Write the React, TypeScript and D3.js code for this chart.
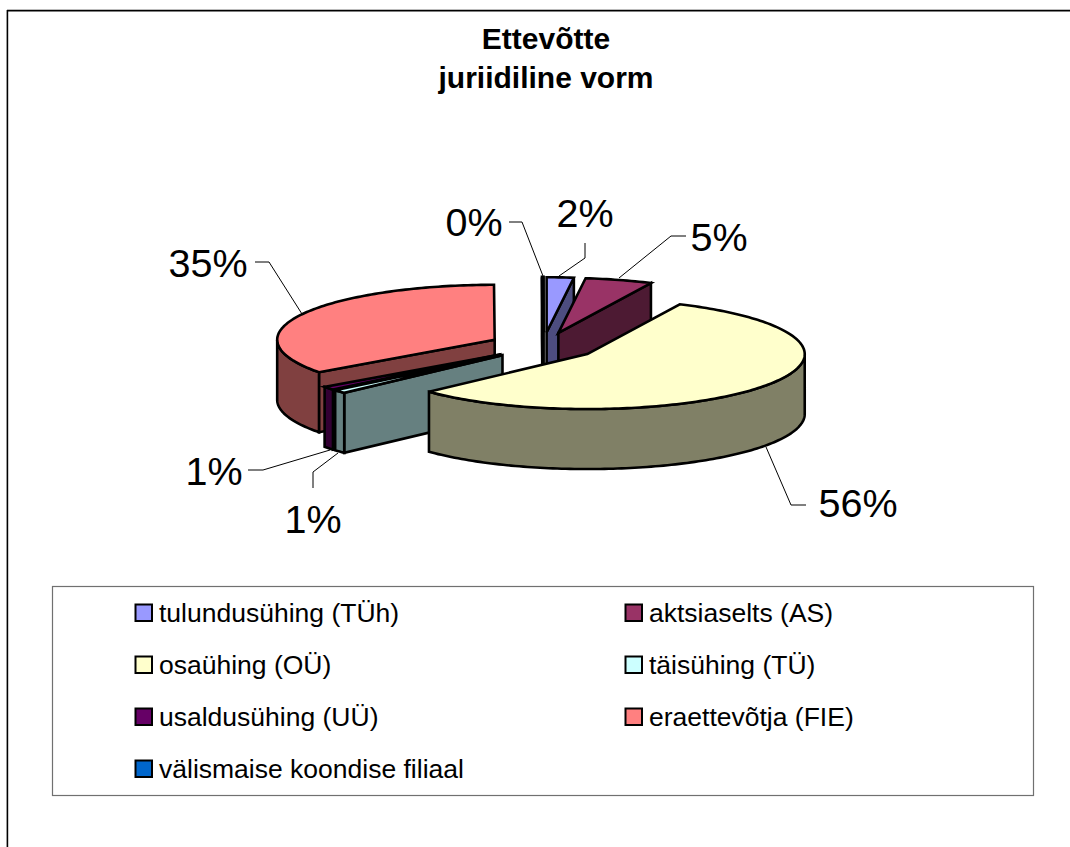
import React from "react";
import * as d3 from "d3";

const categories = [
  "tulundusühing (TÜh)",
  "aktsiaselts (AS)",
  "osaühing (OÜ)",
  "täisühing (TÜ)",
  "usaldusühing (UÜ)",
  "eraettevõtja (FIE)",
  "välismaise koondise filiaal",
];
const shares = [2, 5, 56, 1, 1, 35, 0.05];
const topColors = ["#9999ff", "#993366", "#ffffcc", "#ccffff", "#660066", "#ff8080", "#0066cc"];
const sideColors = ["#4d4d80", "#4d1a33", "#808066", "#668080", "#330033", "#804040", "#003366"];
const paintOrder = [6, 0, 1, 5, 4, 3, 2];
const labelTexts = ["2%", "5%", "56%", "1%", "1%", "35%", "0%"];
const titleLines = ["Ettevõtte", "juriidiline vorm"];

const W = 1070, H = 847;
const CX = 543.2, CY = 346, RX = 217.5, RY = 55, DEPTH = 60, EXPLODE = 0.25;
const FONT = "'Liberation Sans', Arial, sans-serif";

// label anchor (x, baseline y) and leader polyline per slice, in chart px
const labelPos = [
  { x: 585, y: 227, leader: [[585, 243], [585, 258], [559, 276]] },
  { x: 719, y: 251, leader: [[686, 236], [671, 236], [619, 278]] },
  { x: 858, y: 517, leader: [[806, 505], [791, 505], [766, 447]] },
  { x: 313, y: 533, leader: [[313, 488], [313, 472], [338, 453]] },
  { x: 214, y: 485, leader: [[248, 470], [263, 470], [330, 450]] },
  { x: 208, y: 277, leader: [[255, 262], [269, 262], [302, 314]] },
  { x: 474, y: 236, leader: [[509, 222], [522, 222], [543, 276]] },
];

const pieGen = d3.pie<number>().sort(null).value((d) => d);
const arcs = pieGen(shares);

function pt(a: number, ox: number, oy: number, dz = 0): [number, number] {
  return [ox + RX * Math.sin(a), oy - RY * Math.cos(a) + dz];
}
function arcPts(a0: number, a1: number, ox: number, oy: number, dz = 0) {
  const n = Math.max(2, Math.ceil(Math.abs(a1 - a0) / 0.02));
  return d3.range(n + 1).map((i) => pt(a0 + ((a1 - a0) * i) / n, ox, oy, dz));
}
const line = d3.line();

function slicePaths(i: number) {
  const a0 = arcs[i].startAngle, a1 = arcs[i].endAngle, m = (a0 + a1) / 2;
  const ox = CX + EXPLODE * RX * Math.sin(m);
  const oy = CY - EXPLODE * RY * Math.cos(m);
  const sides: string[] = [];
  const TAU = Math.PI * 2;
  if (Math.sin(a1) > 0) {
    const e = pt(a1, ox, oy);
    sides.push(line([e, [ox, oy], [ox, oy + DEPTH], [e[0], e[1] + DEPTH]])! + "Z");
  }
  if (Math.sin(a0) < 0) {
    const e = pt(a0, ox, oy);
    sides.push(line([e, [ox, oy], [ox, oy + DEPTH], [e[0], e[1] + DEPTH]])! + "Z");
  }
  const s0 = Math.max(a0, Math.PI / 2), s1 = Math.min(a1, (TAU * 3) / 4);
  if (s1 > s0) {
    const top = arcPts(s0, s1, ox, oy);
    const bottom = arcPts(s1, s0, ox, oy, DEPTH);
    sides.push(line([...top, ...bottom])! + "Z");
  }
  const face = line([[ox, oy], ...arcPts(a0, a1, ox, oy)])! + "Z";
  return { sides, face, thin: a1 - a0 < 0.01 };
}

const legendCols = [135, 625];
const legendRows = [613, 665, 717, 769];

export default function App() {
  return (
    <svg width={W} height={H} style={{ position: "absolute", left: 0, top: 0, background: "#fff" }} fontFamily={FONT}>
      <path d={`M7 9.5H${W}`} fill="none" stroke="#bbbbbb" strokeWidth={1} />
      <path d={`M7.4 ${H}V10.7H${W}`} fill="none" stroke="#000" strokeWidth={1.6} />
      {titleLines.map((t, i) => (
        <text key={t} x={546} y={49 + i * 39} textAnchor="middle" fontSize={30} fontWeight="bold" fill="#000">{t}</text>
      ))}
      {paintOrder.map((i) => {
        const { sides, face, thin } = slicePaths(i);
        return (
          <g key={i} stroke="#000" strokeWidth={thin ? 3.6 : 2.6} strokeLinejoin="miter">
            {sides.map((d, k) => <path key={k} d={d} fill={sideColors[i]} />)}
            <path d={face} fill={topColors[i]} />
          </g>
        );
      })}
      {labelPos.map((l, i) => (
        <g key={i}>
          <path d={line(l.leader as [number, number][])!} fill="none" stroke="#000" strokeWidth={1} />
          <text x={l.x} y={l.y - 0.5} textAnchor="middle" fontSize={39.5} fill="#000">{labelTexts[i]}</text>
        </g>
      ))}
      <rect x={52.5} y={586.5} width={981} height={209} fill="#fff" stroke="#707070" strokeWidth={1.2} />
      {categories.map((c, i) => {
        const x = legendCols[i % 2], y = legendRows[Math.floor(i / 2)];
        return (
          <g key={c}>
            <rect x={x + 0.5} y={y - 8.5} width={16.5} height={16.5} fill={topColors[i]} stroke="#000" strokeWidth={2} />
            <text x={x + 24} y={y + 9} fontSize={26.5} fill="#000">{c}</text>
          </g>
        );
      })}
    </svg>
  );
}
